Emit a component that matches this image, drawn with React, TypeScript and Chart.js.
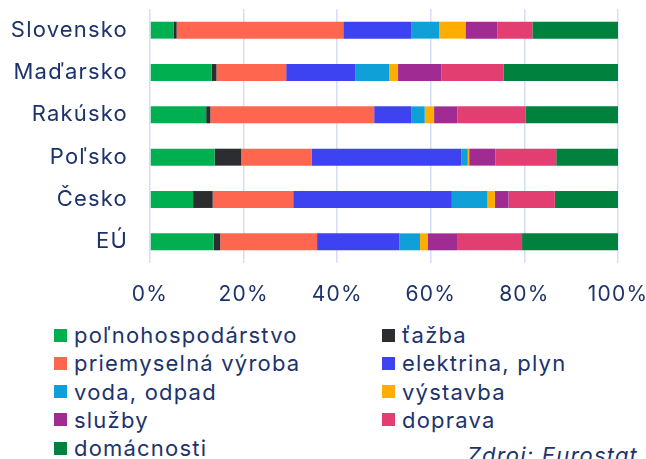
import React, { useEffect, useRef } from "react";
import { Chart, registerables } from "chart.js";

Chart.register(...registerables);

const categories = ["Slovensko", "Maďarsko", "Rakúsko", "Poľsko", "Česko", "EÚ"];
const seriesNames = [
  "poľnohospodárstvo",
  "ťažba",
  "priemyselná výroba",
  "elektrina, plyn",
  "voda, odpad",
  "výstavba",
  "služby",
  "doprava",
  "domácnosti",
];
const seriesColors = [
  "#00b050",
  "#2b2d31",
  "#ff6650",
  "#3d43f0",
  "#10a0d8",
  "#ffae00",
  "#a02b93",
  "#e33e72",
  "#00813d",
];
const agri = [5.1, 13.2, 12.0, 13.8, 9.2, 13.6];
const mining = [0.6, 1.0, 0.9, 5.7, 4.2, 1.4];
const industry = [35.6, 14.9, 35.0, 15.0, 17.2, 20.7];
const electricity = [14.5, 14.8, 7.9, 32.0, 33.9, 17.6];
const water = [6.0, 7.2, 2.9, 1.4, 7.6, 4.4];
const construction = [5.6, 1.9, 2.0, 0.3, 1.6, 1.6];
const services = [6.8, 9.3, 5.0, 5.6, 2.9, 6.3];
const transport = [7.5, 13.2, 14.6, 13.0, 9.9, 13.9];
const households = [18.3, 24.5, 19.7, 13.2, 13.5, 20.5];
const seriesValues = [agri, mining, industry, electricity, water, construction, services, transport, households];
const xTicks = [0, 20, 40, 60, 80, 100];

const TEXT = "#1d336b";
const FONT = "Inter, 'Open Sans', sans-serif";
const SPACING = "1.2px";

const spacingPlugin = {
  id: "letterSpacing",
  beforeDraw(chart: any) {
    chart.ctx.letterSpacing = SPACING;
  },
};

export default function App() {
  const ref = useRef<HTMLCanvasElement | null>(null);
  useEffect(() => {
    if (!ref.current) return;
    const chart = new Chart(ref.current, {
      type: "bar",
      data: {
        labels: categories,
        datasets: seriesNames.map((name, i) => ({
          label: name,
          data: seriesValues[i],
          backgroundColor: seriesColors[i],
          borderWidth: 0,
          barPercentage: 0.8,
          categoryPercentage: 0.5,
        })),
      },
      plugins: [spacingPlugin],
      options: {
        indexAxis: "y",
        animation: false,
        responsive: false,
        maintainAspectRatio: false,
        layout: { padding: { top: 9, right: 28, bottom: 5, left: 0 } },
        plugins: { legend: { display: false }, tooltip: { enabled: false } },
        scales: {
          x: {
            stacked: true,
            min: 0,
            max: 100,
            afterBuildTicks: (s: any) => {
              s.ticks = xTicks.map((v) => ({ value: v }));
            },
            afterFit: (s: any) => {
              s.paddingLeft = 0;
              s.paddingRight = 0;
              s.height = 42;
            },
            ticks: {
              callback: (v: any) => `${v}%`,
              color: TEXT,
              font: { family: FONT, size: 21 },
              padding: 19,
              maxRotation: 0,
            },
            grid: { color: "#d6ddf6", lineWidth: 1.5, drawTicks: false },
            border: { display: false },
          },
          y: {
            stacked: true,
            afterFit: (s: any) => {
              s.width = 150;
              s.paddingTop = 0;
              s.paddingBottom = 0;
            },
            ticks: {
              color: TEXT,
              font: { family: FONT, size: 22 },
              padding: 22,
            },
            grid: { display: false, drawTicks: false },
            border: { display: false },
          },
        },
      },
    });
    return () => chart.destroy();
  }, []);

  const rowH = 28.3;
  return (
    <div
      style={{
        position: "fixed",
        left: 0,
        top: 0,
        width: 646,
        height: 459,
        background: "#fff",
        overflow: "hidden",
        fontFamily: FONT,
        color: TEXT,
        letterSpacing: SPACING,
      }}
    >
      <canvas ref={ref} width={646} height={310} style={{ position: "absolute", left: 0, top: 0 }} />
      {seriesNames.map((name, i) => {
        const col = i % 2;
        const row = Math.floor(i / 2);
        const cy = 335 + row * rowH;
        return (
          <div
            key={name}
            style={{
              position: "absolute",
              left: col === 0 ? 54 : 382,
              top: cy - 14,
              height: 28,
              display: "flex",
              alignItems: "center",
              fontSize: 22,
              whiteSpace: "nowrap",
            }}
          >
            <span style={{ display: "inline-block", width: 13, height: 13, background: seriesColors[i], marginRight: 7 }} />
            <span>{name}</span>
          </div>
        );
      })}
      <div
        style={{
          position: "absolute",
          left: 467,
          top: 442,
          fontSize: 22,
          lineHeight: "27px",
          fontStyle: "italic",
          whiteSpace: "nowrap",
        }}
      >
        Zdroj: Eurostat
      </div>
    </div>
  );
}
